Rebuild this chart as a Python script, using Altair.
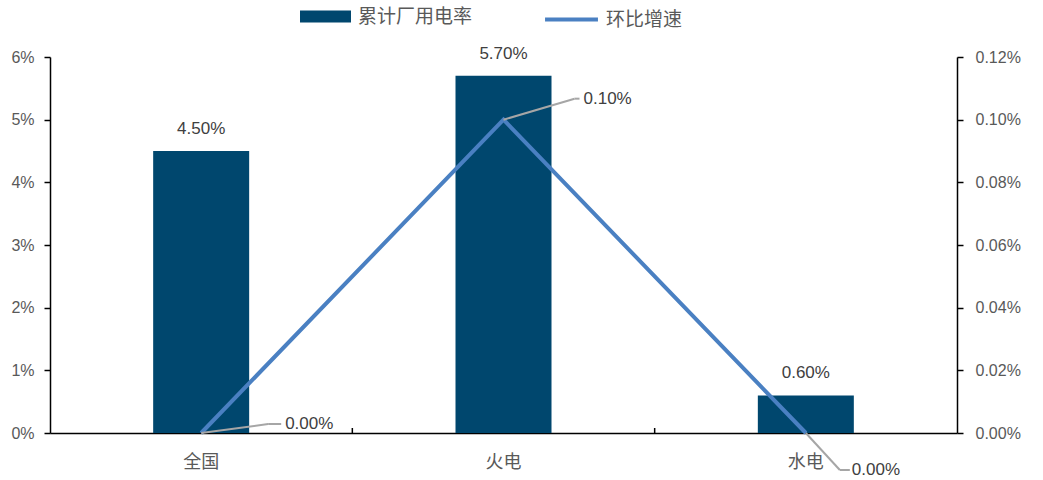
import altair as alt
import pandas as pd

categories = ["全国", "火电", "水电"]
rate = [0.045, 0.057, 0.006]
mom = [0.0, 0.001, 0.0]
bar_name = "累计厂用电率"
line_name = "环比增速"

df = pd.DataFrame({"cat": categories, "rate": rate, "mom": mom,
                   "s1": [bar_name] * 3, "s2": [line_name] * 3})

BAR = "#00476E"
LINE = "#4A80C2"
GRAY = "#595959"
LEAD = "#A6A6A6"
NUM_FONT = "Liberation Sans"
CJK_FONT = "Noto Sans CJK SC"

xaxis = alt.Axis(labelAngle=0, labelFont=CJK_FONT, labelFontSize=18,
                 labelColor=GRAY, labelPadding=20, ticks=False,
                 domainColor="black", domainWidth=1.5)
xenc = alt.X("cat:N", sort=categories, title=None,
             scale=alt.Scale(paddingInner=0, paddingOuter=0), axis=xaxis)

yl_axis = alt.Axis(format=".0%", values=[0, 0.01, 0.02, 0.03, 0.04, 0.05, 0.06],
                   grid=False, domainColor="black", domainWidth=1.5,
                   tickColor="black", tickSize=6, tickWidth=1.5,
                   labelFont=NUM_FONT, labelFontSize=16, labelColor=GRAY,
                   labelPadding=10)
yscale_l = alt.Scale(domain=[0, 0.06])

bars = alt.Chart(df).mark_bar(size=96).encode(
    x=xenc,
    y=alt.Y("rate:Q", title=None, scale=yscale_l, axis=yl_axis),
    fill=alt.Fill("s1:N", scale=alt.Scale(range=[BAR]),
                  legend=alt.Legend(title=None, orient="none", legendX=250, legendY=-66,
                                    symbolType="M-1,-0.24H1V0.24H-1Z", symbolSize=2600,
                                    symbolStrokeWidth=0,
                                    labelFont=CJK_FONT, labelFontSize=19, labelColor=GRAY,
                                    labelOffset=7)),
)
bar_text = alt.Chart(df).mark_text(dy=-22, font=NUM_FONT, fontSize=17, color="#404040").encode(
    x=xenc,
    y=alt.Y("rate:Q", title=None, scale=yscale_l, axis=yl_axis),
    text=alt.Text("rate:Q", format=".2%"),
)
# small inward ticks at the category boundaries
xticks = alt.Chart(df).transform_filter(alt.datum.cat != categories[0]).mark_rule(
    color="black", strokeWidth=1.5, y2Offset=-5).encode(
    x=alt.X("cat:N", sort=categories, bandPosition=0, title=None,
            scale=alt.Scale(paddingInner=0, paddingOuter=0), axis=xaxis),
    y=alt.Y(datum=0, scale=yscale_l, axis=yl_axis, title=None),
    y2=alt.Y2(datum=0),
)
left = alt.layer(bars, bar_text, xticks)

yr_axis = alt.Axis(format=".2%", values=[0, 0.0002, 0.0004, 0.0006, 0.0008, 0.001, 0.0012],
                   orient="right", grid=False, domainColor="black", domainWidth=1.5,
                   tickColor="black", tickSize=6, tickWidth=1.5,
                   labelFont=NUM_FONT, labelFontSize=16, labelColor=GRAY, labelPadding=12)
yscale_r = alt.Scale(domain=[0, 0.0012])
yr = alt.Y("mom:Q", title=None, scale=yscale_r, axis=yr_axis)

line = alt.Chart(df).mark_line(strokeWidth=4).encode(
    x=xenc,
    y=yr,
    stroke=alt.Stroke("s2:N", scale=alt.Scale(range=[LINE]),
                      legend=alt.Legend(title=None, orient="none", legendX=493, legendY=-66,
                                        symbolType="stroke", symbolSize=2800,
                                        symbolStrokeWidth=4,
                                        labelFont=CJK_FONT, labelFontSize=19, labelColor=GRAY,
                                        labelOffset=6)),
)

# label offsets per category: (diagonal end dx, dy, horizontal end dx, text dx)
offsets = {
    "全国": (67, -9, 80, 84),
    "火电": (71, -21, 76, 80),
    "水电": (34, 37, 44, 46),
}

label_layers = []
for cat, (ddx, ddy, hdx, tdx) in offsets.items():
    base = alt.Chart(df).transform_filter(alt.datum.cat == cat)
    enc = dict(x=xenc, y=yr)
    diag = base.mark_rule(color=LEAD, strokeWidth=2, x2Offset=ddx, y2Offset=ddy).encode(
        x2="cat:N", y2="mom:Q", **enc)
    horiz = base.mark_rule(color=LEAD, strokeWidth=2, xOffset=ddx, yOffset=ddy,
                           x2Offset=hdx, y2Offset=ddy).encode(
        x2="cat:N", y2="mom:Q", **enc)
    txt = base.mark_text(dx=tdx, dy=ddy, align="left", baseline="middle",
                         font=NUM_FONT, fontSize=17, color="#404040").encode(
        text=alt.Text("mom:Q", format=".2%"), **enc)
    label_layers += [diag, horiz, txt]

right = alt.layer(line, *label_layers)

chart = alt.layer(left, right).resolve_scale(y="independent", fill="independent",
                                             stroke="independent").properties(
    width=907, height=376,
    autosize=alt.AutoSizeParams(type="none"),
    padding={"left": 50, "top": 57, "right": 86, "bottom": 47},
).configure_view(stroke=None).configure_legend(
    direction="horizontal"
)

chart.save("out.html", embed_options={"renderer": "svg", "actions": False})
